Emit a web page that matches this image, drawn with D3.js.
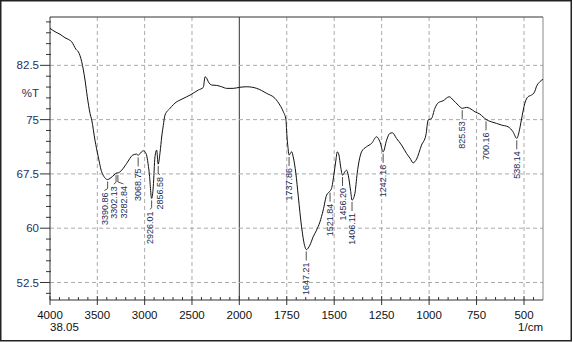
<!DOCTYPE html>
<html>
<head>
<meta charset="utf-8">
<script src="https://cdn.jsdelivr.net/npm/d3@7"></script>
<style>
  body { margin: 0; background: #fff; }
  svg { display: block; font-family: "Liberation Sans", Arial, sans-serif; }
</style>
</head>
<body>
<div id="chart"></div>
<script>
// spectrum: wavenumber (1/cm) and %T
const wavenumber = [4000, 3947, 3894, 3842, 3807, 3771, 3725, 3701, 3665, 3630, 3606, 3577, 3559, 3525, 3490, 3454,
  3391, 3366, 3313, 3302, 3278, 3242, 3190, 3126, 3084, 3068, 3057, 3014, 2986, 2951, 2926, 2909, 2891, 2873, 2857,
  2837, 2820, 2803, 2785, 2732, 2661, 2627, 2556, 2521, 2433, 2380, 2362, 2344, 2327, 2292, 2239, 2186, 2133, 2064,
  2000, 1961, 1908, 1856, 1812, 1786, 1768, 1754, 1751, 1742, 1738, 1724, 1716, 1702, 1689, 1672, 1654, 1647, 1628,
  1611, 1593, 1575, 1558, 1540, 1526, 1514, 1502, 1491, 1484, 1475, 1466, 1456, 1444, 1435, 1426, 1414, 1406, 1391,
  1379, 1368, 1356, 1330, 1303, 1277, 1259, 1242, 1224, 1207, 1193, 1172, 1145, 1119, 1101, 1084, 1066, 1040, 1017,
  1005, 987, 970, 952, 926, 894, 873, 847, 825, 803, 786, 759, 733, 716, 700, 672, 645, 619, 584, 558, 538, 526, 514,
  496, 479, 461, 444, 435, 417, 400];
const transmittance = [87.62, 87.15, 86.79, 86.32, 86.09, 85.76, 84.71, 84.38, 83.0, 80.47, 78.16, 75.86, 74.94, 72.17, 69.86, 67.79,
  66.72, 66.88, 67.47, 67.6, 67.65, 68.02, 68.95, 70.1, 70.24, 70.05, 70.2, 70.69, 70.33, 67.57, 64.11, 65.72, 69.86, 70.79, 68.85,
  70.5, 72.6, 74.2, 75.63, 76.56, 77.47, 77.7, 78.16, 78.39, 79.09, 79.46, 80.92, 80.7, 80.23, 79.78, 79.73, 79.54, 79.32, 79.32,
  79.46, 79.54, 79.32, 78.63, 77.94, 77.01, 76.09, 74.94, 73.55, 70.79, 70.1, 70.56, 69.86, 67.57, 64.33, 60.19, 57.42, 57.05, 57.66,
  58.8, 59.73, 60.88, 62.5, 64.57, 65.02, 65.5, 67.33, 69.41, 70.55, 70.1, 68.48, 67.33, 67.79, 68.02, 67.33, 65.26, 63.88, 64.8,
  67.57, 69.41, 70.55, 71.25, 71.72, 72.63, 71.94, 70.55, 72.17, 73.1, 73.18, 72.41, 71.48, 70.33, 69.68, 69.03, 69.55, 71.48, 72.86,
  74.94, 75.17, 76.55, 77.33, 77.61, 78.16, 77.7, 77.01, 76.56, 76.69, 76.56, 76.09, 75.77, 75.39, 75.03, 74.7, 74.48, 74.25, 74.01, 73.32, 72.41, 73.32, 74.94,
  77.25, 78.16, 78.39, 78.85, 79.54, 80.23, 80.56];

const peaks = [3390.86, 3302.13, 3282.84, 3068.75, 2926.01, 2856.58, 1737.86, 1647.21, 1521.84, 1456.20, 1406.11,
  1242.16, 825.53, 700.16, 538.14];

const xMajor = [4000, 3500, 3000, 2500, 2000, 1750, 1500, 1250, 1000, 750, 500];
const yMajor = [52.5, 60, 67.5, 75, 82.5];

const width = 573, height = 342;
const plot = { left: 50, right: 543, top: 17, bottom: 300 };

const svg = d3.select("#chart").append("svg").attr("width", width).attr("height", height);

// outer frame
svg.append("rect").attr("x", 0.75).attr("y", 0.75).attr("width", width - 2.5).attr("height", height - 2)
  .attr("fill", "none").attr("stroke", "#222").attr("stroke-width", 1.5);

// x scale changes slope at 2000
const x = d3.scaleLinear().domain([4000, 2000, 400]).range([plot.left, 239.3, plot.right]);
const y = d3.scaleLinear().domain([50.08, 89.18]).range([plot.bottom, plot.top]);

// grid
svg.append("g").selectAll("line").data(xMajor.filter(d => d !== 4000)).join("line")
  .attr("x1", d => x(d)).attr("x2", d => x(d))
  .attr("y1", plot.top).attr("y2", plot.bottom)
  .attr("stroke", d => d === 2000 ? "#333" : "#aaa")
  .attr("stroke-dasharray", d => d === 2000 ? null : "4,3");
svg.append("g").selectAll("line").data(yMajor).join("line")
  .attr("x1", plot.left).attr("x2", plot.right)
  .attr("y1", d => y(d)).attr("y2", d => y(d))
  .attr("stroke", "#aaa").attr("stroke-dasharray", "4,3");

// frame of plot
svg.append("line").attr("x1", plot.left).attr("x2", plot.right).attr("y1", plot.top).attr("y2", plot.top)
  .attr("stroke", "#333");
svg.append("line").attr("x1", plot.right).attr("x2", plot.right).attr("y1", plot.top).attr("y2", plot.bottom)
  .attr("stroke", "#888");
svg.append("line").attr("x1", plot.left).attr("x2", plot.left).attr("y1", plot.top).attr("y2", plot.bottom)
  .attr("stroke", "#333");
svg.append("line").attr("x1", plot.left).attr("x2", plot.right).attr("y1", plot.bottom).attr("y2", plot.bottom)
  .attr("stroke", "#333");

// x ticks
const xMinor = d3.range(4000, 2000, -100).concat(d3.range(2000, 400, -50)).filter(d => !xMajor.includes(d));
svg.append("g").selectAll("line").data(xMinor).join("line")
  .attr("x1", d => x(d)).attr("x2", d => x(d))
  .attr("y1", plot.bottom - 3).attr("y2", plot.bottom)
  .attr("stroke", "#333");
svg.append("g").selectAll("line").data(xMajor).join("line")
  .attr("x1", d => x(d)).attr("x2", d => x(d))
  .attr("y1", plot.bottom - 4).attr("y2", plot.bottom + 5)
  .attr("stroke", "#333");
svg.append("g").selectAll("text").data(xMajor).join("text")
  .attr("x", d => x(d)).attr("y", 318.5)
  .attr("text-anchor", "middle").attr("font-size", 11.5).attr("fill", "#111")
  .text(d => d);

// y ticks
const yMinor = d3.range(51, 89, 1.5).filter(d => !yMajor.includes(d));
svg.append("g").selectAll("line").data(yMinor).join("line")
  .attr("x1", plot.left - 4).attr("x2", plot.left + 1)
  .attr("y1", d => y(d)).attr("y2", d => y(d))
  .attr("stroke", "#333");
svg.append("g").selectAll("line").data(yMajor).join("line")
  .attr("x1", plot.left - 10).attr("x2", plot.left)
  .attr("y1", d => y(d)).attr("y2", d => y(d))
  .attr("stroke", "#333");
svg.append("g").selectAll("text").data(yMajor).join("text")
  .attr("x", 39).attr("y", d => y(d)).attr("dy", "0.35em")
  .attr("text-anchor", "end").attr("font-size", 11.5).attr("fill", "#26305e")
  .text(d => d);

svg.append("text").attr("x", 39).attr("y", 93).attr("dy", "0.35em")
  .attr("text-anchor", "end").attr("font-size", 11.5).attr("fill", "#26305e").text("%T");
svg.append("text").attr("x", 50).attr("y", 331)
  .attr("font-size", 11.5).attr("fill", "#111").text("38.05");
svg.append("text").attr("x", 543).attr("y", 331)
  .attr("text-anchor", "end").attr("font-size", 11.5).attr("fill", "#111").text("1/cm");

// spectrum
const pts = wavenumber.map((w, i) => [w, transmittance[i]]);
svg.append("path").datum(pts)
  .attr("fill", "none").attr("stroke", "#111").attr("stroke-width", 1)
  .attr("d", d3.line().x(d => x(d[0])).y(d => y(d[1])).curve(d3.curveMonotoneX));

// peak labels
const tAt = w => {
  const i = pts.findIndex(p => p[0] <= w);
  if (i <= 0) return pts[Math.max(i, 0)][1];
  const a = pts[i - 1], b = pts[i];
  return a[1] + (b[1] - a[1]) * (a[0] - w) / (a[0] - b[0]);
};
const labels = peaks.map(w => ({ w, px: x(w), py: y(tAt(w)), lx: x(w) }));
// nudge labels that would overlap
for (let k = 0; k < 20; k++) {
  for (let i = 1; i < labels.length; i++) {
    const gap = labels[i].lx - labels[i - 1].lx;
    if (gap < 9.5) {
      const s = (9.5 - gap) / 2;
      labels[i].lx += s;
      labels[i - 1].lx -= s;
    }
  }
}
const lg = svg.append("g");
labels.forEach(l => {
  const top = l.py + 12;
  lg.append("polyline")
    .attr("points", [[l.px, l.py + 2], [l.px, top - 3], [l.lx, top - 1]].map(p => p.join(",")).join(" "))
    .attr("fill", "none").attr("stroke", "#222").attr("stroke-width", 0.8);
  lg.append("text")
    .attr("transform", `translate(${l.lx},${top + 1}) rotate(-90)`)
    .attr("dy", "0.35em").attr("text-anchor", "end")
    .attr("font-size", 9).attr("fill", "#1e2a55")
    .text(l.w.toFixed(2));
});
</script>
</body>
</html>
